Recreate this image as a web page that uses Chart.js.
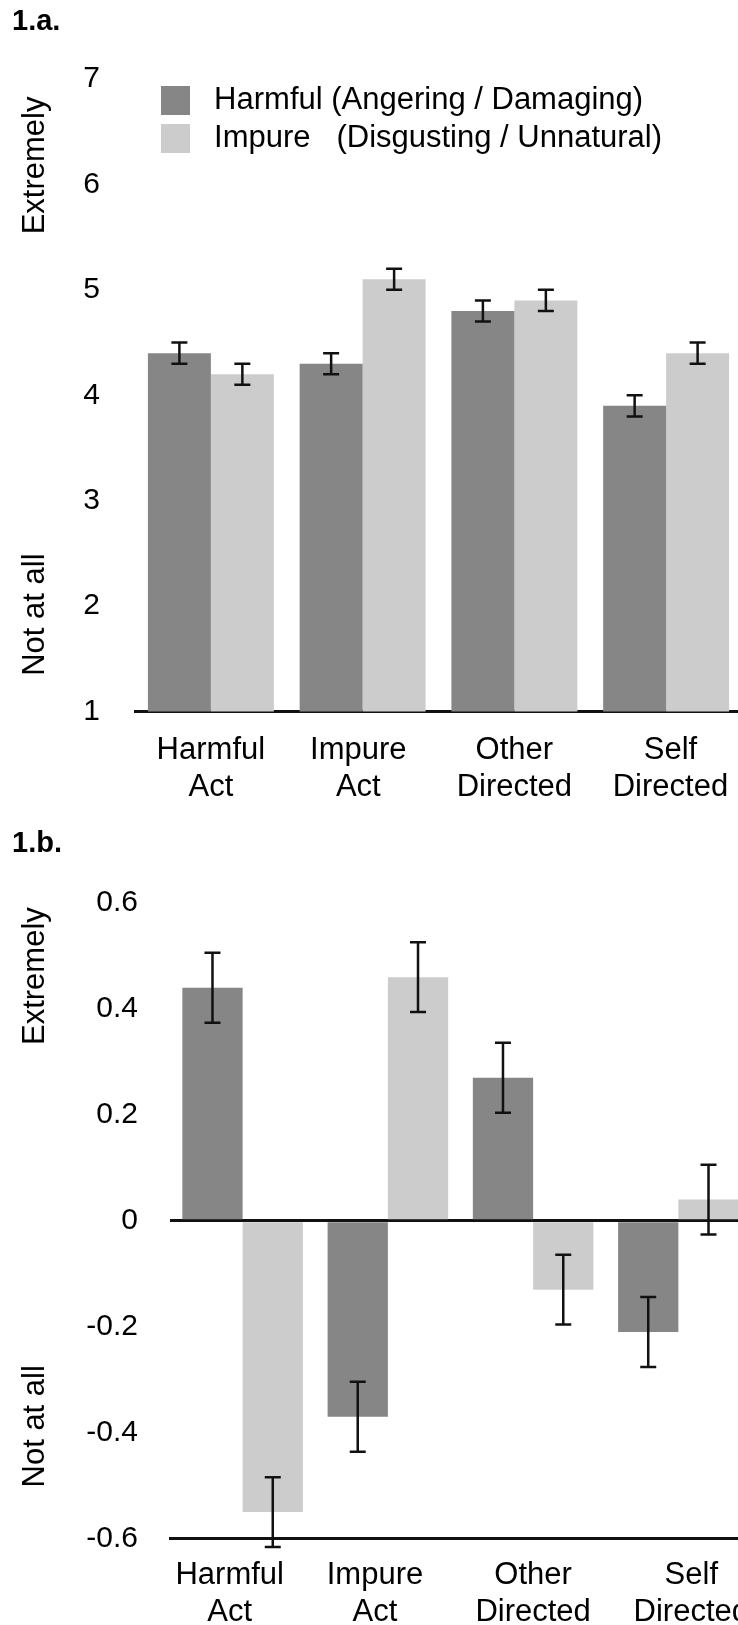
<!DOCTYPE html>
<html>
<head>
<meta charset="utf-8">
<script src="https://cdn.jsdelivr.net/npm/chart.js@4.4.1/dist/chart.umd.min.js"></script>
<style>
  html, body { margin: 0; padding: 0; overflow: hidden; background: #fff; }
  #page { position: relative; width: 738px; height: 1625px; overflow: hidden; }
  .panel { position: absolute; left: 0; }
  #panelA { top: 0; width: 742px; height: 826px; }
  #panelB { top: 820px; width: 751px; height: 829px; }
</style>
</head>
<body>
<div id="page">
  <div class="panel" id="panelA"><canvas id="chartA"></canvas></div>
  <div class="panel" id="panelB"><canvas id="chartB"></canvas></div>
</div>
<script>
const categories = [['Harmful', 'Act'], ['Impure', 'Act'], ['Other', 'Directed'], ['Self', 'Directed']];
const seriesNames = ['Harmful (Angering / Damaging)', 'Impure   (Disgusting / Unnatural)'];

// 1.a. mean ratings, 1 = not at all, 7 = extremely
const harmfulA = [4.4, 4.3, 4.8, 3.9];
const impureA = [4.2, 5.1, 4.9, 4.4];
const harmfulErrA = [0.1, 0.1, 0.1, 0.1];
const impureErrA = [0.1, 0.1, 0.1, 0.1];

// 1.b. standardized ratings
const harmfulB = [0.44, -0.37, 0.27, -0.21];
const impureB = [-0.55, 0.46, -0.13, 0.04];
const harmfulErrB = [0.066, 0.066, 0.066, 0.066];
const impureErrB = [0.066, 0.066, 0.066, 0.066];

const DARK = '#858685';
const LIGHT = '#cbcccb';
const INK = '#111';

Chart.defaults.font.family = '"Liberation Sans", Arial, sans-serif';
Chart.defaults.color = '#000';

// whiskers drawn from each bar's own position
const errorBars = {
  id: 'errorBars',
  afterDatasetsDraw(chart) {
    const { ctx } = chart;
    const y = chart.scales.y;
    ctx.save();
    ctx.strokeStyle = INK;
    ctx.lineWidth = 2.5;
    chart.data.datasets.forEach((ds, d) => {
      chart.getDatasetMeta(d).data.forEach((bar, i) => {
        const top = y.getPixelForValue(ds.data[i] + ds.errors[i]);
        const bot = y.getPixelForValue(ds.data[i] - ds.errors[i]);
        ctx.beginPath();
        ctx.moveTo(bar.x, top); ctx.lineTo(bar.x, bot);
        ctx.moveTo(bar.x - 8, top); ctx.lineTo(bar.x + 8, top);
        ctx.moveTo(bar.x - 8, bot); ctx.lineTo(bar.x + 8, bot);
        ctx.stroke();
      });
    });
    ctx.restore();
  }
};

// "Extremely" / "Not at all" beside the value axis
const sideLabels = {
  id: 'sideLabels',
  afterDraw(chart, args, opts) {
    if (!opts.items) return;
    const { ctx } = chart;
    const y = chart.scales.y;
    ctx.save();
    ctx.font = '31px "Liberation Sans", Arial, sans-serif';
    ctx.fillStyle = '#000';
    ctx.textAlign = 'center';
    ctx.textBaseline = 'middle';
    opts.items.forEach(it => {
      ctx.save();
      ctx.translate(opts.x, y.getPixelForValue(it.at));
      ctx.rotate(-Math.PI / 2);
      ctx.fillText(it.text, 0, 0);
      ctx.restore();
    });
    ctx.restore();
  }
};

// put the legend inside the plot, a little in from the top-left corner
const legendNudge = {
  id: 'legendNudge',
  afterLayout(chart, args, opts) {
    const lg = chart.legend;
    if (!lg || opts.dx === undefined) return;
    const h = lg.bottom - lg.top;
    lg.left = chart.chartArea.left + opts.dx;
    lg.top = chart.chartArea.top + opts.dy;
    lg.bottom = lg.top + h;
  }
};

// nudge category labels sideways with spaces (+ = right, - = left)
function shiftLabel(lines, n) {
  return lines.map(s => (n > 0 ? ' '.repeat(n) + s : s + ' '.repeat(-n)));
}

function makeChart(id, cfg) {
  return new Chart(document.getElementById(id), {
    type: 'bar',
    data: {
      labels: categories,
      datasets: [
        { label: ' ' + seriesNames[0], data: cfg.harmful, errors: cfg.harmfulErr, backgroundColor: DARK, borderWidth: 0 },
        { label: ' ' + seriesNames[1], data: cfg.impure, errors: cfg.impureErr, backgroundColor: LIGHT, borderWidth: 0 }
      ]
    },
    options: {
      responsive: true,
      maintainAspectRatio: false,
      animation: false,
      layout: { padding: { left: 12, top: 0, right: 0, bottom: 0 } },
      datasets: { bar: { categoryPercentage: 0.83, barPercentage: 1 } },
      scales: {
        x: {
          z: 1,
          grid: { display: false, drawTicks: false },
          border: { display: true, color: INK, width: 3 },
          ticks: {
            font: { size: 31 }, padding: cfg.xPad, autoSkip: false, maxRotation: 0, color: '#000',
            callback: (v, i) => shiftLabel(categories[i], cfg.labelShift[i])
          },
          afterFit: s => { s.paddingLeft = 0; s.paddingRight = 0; }
        },
        y: {
          z: 1,
          min: cfg.min,
          max: cfg.max,
          grid: cfg.zeroLine
            ? { display: true, drawTicks: false, lineWidth: 3,
                color: c => (c.tick && Math.abs(c.tick.value) < 1e-9 ? INK : 'rgba(0,0,0,0)') }
            : { display: false, drawTicks: false },
          border: { display: false },
          ticks: {
            stepSize: cfg.step,
            font: { size: 30 },
            padding: cfg.yPad,
            color: '#000',
            callback: v => String(Math.round(v * 10) / 10)
          },
          afterFit: s => { s.width = cfg.axisWidth; }
        }
      },
      plugins: {
        title: {
          display: true, text: cfg.title, align: 'start', color: '#000',
          font: { size: 29, weight: 'bold' },
          padding: { top: cfg.titleTop, bottom: cfg.titleBottom }
        },
        legend: {
          display: cfg.legend,
          position: 'chartArea',
          align: 'start',
          labels: { boxWidth: 29, boxHeight: 29, padding: 7, font: { size: 31 }, color: '#000' }
        },
        tooltip: { enabled: false },
        sideLabels: { x: 35, items: cfg.side },
        legendNudge: cfg.legend ? { dx: 19, dy: -1 } : {}
      }
    },
    plugins: [errorBars, sideLabels, legendNudge]
  });
}

makeChart('chartA', {
  title: '1.a.', titleTop: 4.4, titleBottom: 39.8,
  harmful: harmfulA, impure: impureA, harmfulErr: harmfulErrA, impureErr: impureErrA,
  min: 1, max: 7, step: 1, zeroLine: false,
  xPad: 20, yPad: 35, axisWidth: 123, legend: true, labelShift: [0, -1, 0, 1],
  side: [{ text: 'Extremely', at: 6.18 }, { text: 'Not at all', at: 1.92 }]
});

makeChart('chartB', {
  title: '1.b.', titleTop: 6.2, titleBottom: 42,
  harmful: harmfulB, impure: impureB, harmfulErr: harmfulErrB, impureErr: impureErrB,
  min: -0.6, max: 0.6, step: 0.2, zeroLine: true,
  xPad: 18, yPad: 32, axisWidth: 158, legend: false, labelShift: [-3, -3, 0, 3],
  side: [{ text: 'Extremely', at: 0.462 }, { text: 'Not at all', at: -0.388 }]
});
</script>
</body>
</html>
